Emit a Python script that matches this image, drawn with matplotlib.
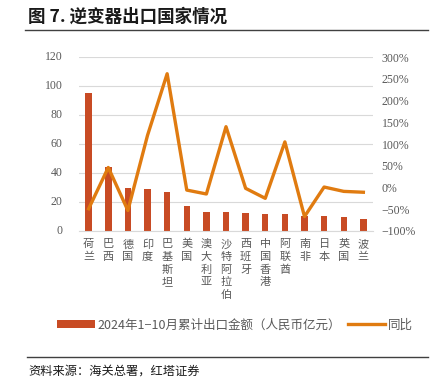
import matplotlib
matplotlib.use("Agg")
import matplotlib.pyplot as plt
from matplotlib.ticker import FuncFormatter

plt.rcParams['font.family'] = ['Noto Sans CJK SC', 'DejaVu Sans']

countries = ['荷兰', '巴西', '德国', '印度', '巴基斯坦', '美国', '澳大利亚', '沙特阿拉伯',
             '西班牙', '中国香港', '阿联酋', '南非', '日本', '英国', '波兰']
export_value = [95, 44, 29.5, 29, 26.7, 17.2, 13.3, 12.9, 12.2, 11.7, 11.5, 10.3, 10.3, 9.7, 8.5]
yoy = [-49, 46, -53, 120, 262, -6, -15, 140, -2, -25, 105, -67, 1, -9, -11]
left_ticks = [0, 20, 40, 60, 80, 100, 120]

bar_label = '2024年1−10月累计出口金额（人民币亿元）'
line_label = '同比'

bar_color = '#C84B24'
line_color = '#E07B10'
grey = '#595959'

fig = plt.figure(figsize=(4.38, 3.92), dpi=100)
ax = fig.add_axes([0.180, 0.411, 0.672, 0.443])
ax2 = ax.twinx()

x = list(range(len(countries)))
ax.bar(x, export_value, width=0.33, color=bar_color, zorder=2, label=bar_label)
ax2.plot(x, yoy, color=line_color, lw=2.4, zorder=3, label=line_label)

ax.set_xlim(-0.5, len(countries) - 0.5)
ax.set_ylim(0, 120)
ax.set_yticks(left_ticks)
ax.set_yticklabels([])
# left labels placed explicitly, right-aligned ~16px left of the plot
for v in left_ticks:
    ax.text(-0.055, v, str(v), transform=ax.get_yaxis_transform(), ha='right', va='center',
            fontsize=8.5, color=grey, family=['Liberation Serif', 'DejaVu Sans'])

ax2.set_ylim(-100, 300)
ax2.set_yticks(range(-100, 301, 50))
ax2.yaxis.set_major_formatter(FuncFormatter(lambda v, p: f'{int(v)}%'.replace('-', '−')))

ax.set_xticks(x)
ax.set_xticklabels(['\n'.join(c) for c in countries], fontsize=8, color=grey,
                   linespacing=1.32, va='top')
ax.tick_params(axis='x', length=0, pad=6)
ax.tick_params(axis='y', length=0)
ax2.tick_params(axis='y', length=0, labelsize=8.5, labelcolor=grey, pad=6)
for t in ax2.get_yticklabels():
    t.set_family(['Liberation Serif', 'DejaVu Sans'])

ax.grid(axis='y', color='#D9D9D9', lw=0.8, zorder=0)
ax.set_axisbelow(True)
for a in (ax, ax2):
    for s in a.spines.values():
        s.set_visible(False)
ax.spines['bottom'].set_visible(True)
ax.spines['bottom'].set_color('#D9D9D9')

# legend
h1, l1 = ax.get_legend_handles_labels()
h2, l2 = ax2.get_legend_handles_labels()
fig.legend(h1 + h2, l1 + l2, loc='center', bbox_to_anchor=(0.537, 0.171), ncol=2,
           frameon=False, fontsize=9, labelcolor=grey, handlelength=3.0,
           handletextpad=0.25, columnspacing=0.5, handleheight=0.5)

# title and source
fig.text(0.064, 0.957, '图 7. 逆变器出口国家情况', fontsize=12.6, fontweight='bold',
         color='#1a1a1a', va='center')
fig.add_artist(plt.Line2D([0.058, 0.978], [0.923, 0.923], color='#404040', lw=1.0))
fig.add_artist(plt.Line2D([0.062, 0.978], [0.089, 0.089], color='#404040', lw=1.0))
fig.text(0.064, 0.054, '资料来源：海关总署，红塔证券', fontsize=8.8, color='#1a1a1a', va='center')

fig.savefig('out.png', dpi=100)
